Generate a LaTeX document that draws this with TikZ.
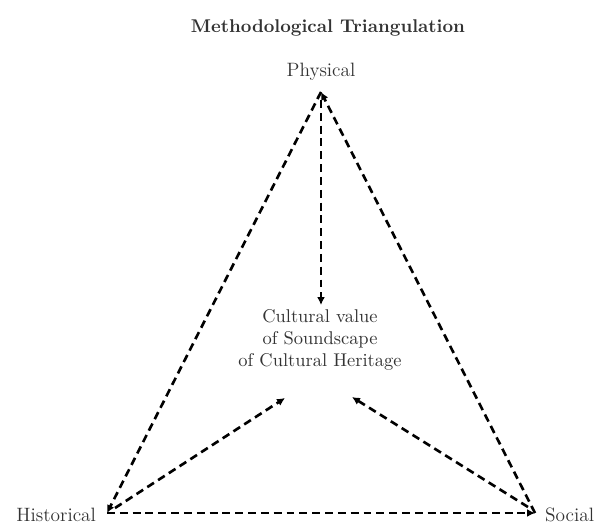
\documentclass[tikz,border=0pt]{standalone}
\usepackage{tikz}
\usetikzlibrary{arrows.meta,positioning}

\tikzset{
	dashline/.style={line width=1.5pt, dash pattern=on 4.5pt off 2.8pt, -{Latex[length=4.5pt,width=4.5pt]}},
	label/.style={text=black!80, font=\fontsize{11}{13}\selectfont, inner sep=1pt},
}

\begin{document}
\begin{tikzpicture}[x=0.02cm, y=-0.02cm]
	\useasboundingbox (0,0) rectangle (595,524);

	\node[label, font=\fontsize{10.5}{12}\selectfont\bfseries] (title) at (328,28) {Methodological Triangulation};

	\coordinate (top) at (321,92);
	\coordinate (left) at (107,513);
	\coordinate (right) at (535,513);

	\node[label] (phys) at (321,72) {Physical};
	\node[label, anchor=east] (hist) at (98,515) {Historical};
	\node[label, anchor=west] (soc) at (543,515) {Social};

	\node[label, align=center, font=\fontsize{10.5}{12.5}\selectfont] (value) at (320,340) {Cultural value\\of Soundscape\\of Cultural Heritage};

	\coordinate (topin) at (321,100);
	\coordinate (valtop) at (321,305);
	\coordinate (lefttip) at (285,398);
	\coordinate (righttip) at (352,397);
	\coordinate (leftin) at (115,508);
	\coordinate (rightin) at (528,507);

	\draw[dashline] (right) -- (top);
	\draw[dashline] (top) -- (left);
	\draw[dashline] (left) -- (right);

	\draw[dashline] (topin) -- (valtop);
	\draw[dashline] (leftin) -- (lefttip);
	\draw[dashline] (rightin) -- (righttip);
\end{tikzpicture}
\end{document}
